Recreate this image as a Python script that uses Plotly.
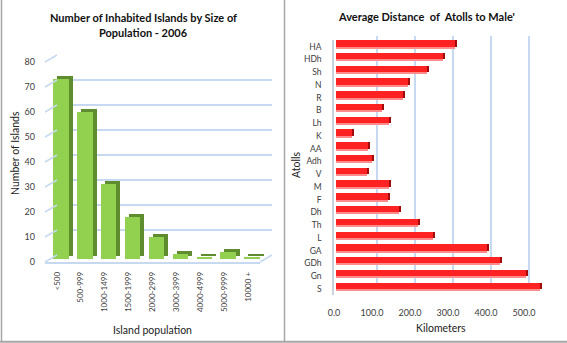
import plotly.graph_objects as go

# ---------------- data ----------------
pop_categories = ["<500", "500-999", "1000-1499", "1500-1999", "2000-2999",
                  "3000-3999", "4000-4999", "5000-9999", "10000 +"]
islands_count = [72, 59, 30, 17, 9, 2, 1, 3, 1]
islands_ticks = [0, 10, 20, 30, 40, 50, 60, 70, 80]

atolls = ["HA", "HDh", "Sh", "N", "R", "B", "Lh", "K", "AA", "Adh",
          "V", "M", "F", "Dh", "Th", "L", "GA", "GDh", "Gn", "S"]
distance_km = [313, 282, 239, 189, 177, 122, 140, 41, 83, 96,
               82, 139, 138, 166, 217, 254, 398, 432, 499, 537]
km_ticks = [0, 100, 200, 300, 400, 500]

# ---------------- geometry helpers ----------------
W, H = 567, 343
def px(x): return x / W
def py(y): return 1 - y / H

FONT = "Lato, 'Liberation Sans', Arial, sans-serif"
GRID = "#C6D9F0"
TICKC = "#404040"

fig = go.Figure()
layout = dict(
    width=W, height=H, margin=dict(l=0, r=0, t=0, b=0),
    paper_bgcolor="white", plot_bgcolor="rgba(0,0,0,0)",
    showlegend=False, font=dict(family=FONT, size=9, color=TICKC),
    bargap=0,
)

# ================= LEFT CHART =================
YMAX = 80
FY0, FY80 = 262, 62          # front plane: pixel y of 0 and 80
FX0, FX1 = 45, 260           # front plane x extent
ncat = len(pop_categories)
cat_range = [-0.5, ncat - 0.5]

def lshift(dx, dy):
    return [px(FX0 + dx), px(FX1 + dx)], [py(FY0 + dy), py(FY80 + dy)]

# axis 1: front axes with labels
xd, yd = lshift(0, 0)
layout["xaxis"] = dict(domain=xd, anchor="y", type="category", range=cat_range,
                       categoryorder="array", categoryarray=pop_categories,
                       tickangle=-90, tickfont=dict(size=8, color=TICKC),
                       showline=True, linecolor=GRID, linewidth=1.5,
                       showgrid=False, zeroline=False, ticks="", automargin=False,
                       ticklabelstandoff=5)
layout["yaxis"] = dict(domain=yd, anchor="x", range=[0, YMAX], tickvals=islands_ticks,
                       tickfont=dict(size=9, color=TICKC), showgrid=False,
                       zeroline=False, showline=False, ticks="", automargin=False,
                       ticklabelstandoff=9)
fig.add_trace(go.Scatter(x=pop_categories, y=[0] * ncat, xaxis="x", yaxis="y",
                         mode="markers", marker=dict(opacity=0), hoverinfo="skip"))

# axis 2: back wall gridlines
layout["xaxis2"] = dict(domain=[px(57), px(272)], anchor="y2", range=[0, 1],
                        showgrid=False, zeroline=False, showticklabels=False, automargin=False)
layout["yaxis2"] = dict(domain=[py(FY0 - 7), py(FY80 - 7)], anchor="x2", range=[0, YMAX],
                        tickvals=islands_ticks, showgrid=True, gridcolor=GRID, gridwidth=1.5,
                        zeroline=False, showticklabels=False, automargin=False)
fig.add_trace(go.Scatter(x=[0], y=[0], xaxis="x2", yaxis="y2", mode="markers",
                         marker=dict(opacity=0), hoverinfo="skip"))

# axis 3: dark extrusion of bars
xd, yd = lshift(8, -6)
layout["xaxis3"] = dict(domain=xd, anchor="y3", type="category", range=cat_range,
                        categoryorder="array", categoryarray=pop_categories,
                        showgrid=False, zeroline=False, showticklabels=False, automargin=False)
layout["yaxis3"] = dict(domain=yd, anchor="x3", range=[0, YMAX], showgrid=False,
                        zeroline=False, showticklabels=False, automargin=False)
fig.add_trace(go.Bar(x=pop_categories, y=islands_count, xaxis="x3", yaxis="y3",
                     width=0.65, marker=dict(color="#5E8C2F", line=dict(width=0))))

# axis 4: front faces of bars
xd, yd = lshift(4, -3)
layout["xaxis4"] = dict(domain=xd, anchor="y4", type="category", range=cat_range,
                        categoryorder="array", categoryarray=pop_categories,
                        showgrid=False, zeroline=False, showticklabels=False, automargin=False)
layout["yaxis4"] = dict(domain=yd, anchor="x4", range=[0, YMAX], showgrid=False,
                        zeroline=False, showticklabels=False, automargin=False)
fig.add_trace(go.Bar(x=pop_categories, y=islands_count, xaxis="x4", yaxis="y4",
                     width=0.65, marker=dict(color="#92D050", line=dict(width=0))))

shapes = []
# side wall diagonals for left chart
for v in islands_ticks:
    yf = FY0 + (FY80 - FY0) * v / YMAX
    shapes.append(dict(type="line", xref="paper", yref="paper",
                       x0=px(FX0), y0=py(yf), x1=px(57), y1=py(yf - 7),
                       line=dict(color=GRID, width=1.5)))
shapes.append(dict(type="line", xref="paper", yref="paper",
                   x0=px(FX1), y0=py(FY0), x1=px(272), y1=py(FY0 - 7),
                   line=dict(color=GRID, width=1.5)))

# ================= RIGHT CHART =================
X0PX = 334
PXU = 0.38                       # pixels per km
YT, YB = 40.3, 295.4             # front category axis extent
na = len(atolls)
rcat_range = [na - 0.5, -0.5]

def rshift(dx, dy):
    xs = X0PX + dx
    return [px(xs), 1.0], [0, (W - xs) / PXU], [py(YB + dy), py(YT + dy)]

xd, xr, yd = rshift(0, 0)
layout["xaxis5"] = dict(domain=xd, anchor="y5", range=xr, tickvals=km_ticks,
                        tickformat=".1f", tickfont=dict(size=9, color=TICKC),
                        showgrid=False, zeroline=False, showline=False, ticks="",
                        automargin=False, ticklabelstandoff=11)
layout["yaxis5"] = dict(domain=yd, anchor="x5", type="category", range=rcat_range,
                        categoryorder="array", categoryarray=atolls,
                        tickfont=dict(size=8.5, color=TICKC), showgrid=False,
                        zeroline=False, showline=True, linecolor="#C9D3E0", linewidth=1.5,
                        ticks="", automargin=False, ticklabelstandoff=9)
fig.add_trace(go.Scatter(x=[0] * na, y=atolls, xaxis="x5", yaxis="y5", mode="markers",
                         marker=dict(opacity=0), hoverinfo="skip"))

# back wall grid
xd, xr, yd = rshift(5, -4)
layout["xaxis6"] = dict(domain=xd, anchor="y6", range=xr, tickvals=km_ticks,
                        showgrid=True, gridcolor=GRID, gridwidth=1.5, zeroline=False,
                        showticklabels=False, automargin=False)
layout["yaxis6"] = dict(domain=yd, anchor="x6", range=[0, 1], showgrid=False,
                        zeroline=False, showticklabels=False, automargin=False)
fig.add_trace(go.Scatter(x=[0], y=[0], xaxis="x6", yaxis="y6", mode="markers",
                         marker=dict(opacity=0), hoverinfo="skip"))

def rbar_axes(n, dx, dy):
    xd, xr, yd = rshift(dx, dy)
    layout[f"xaxis{n}"] = dict(domain=xd, anchor=f"y{n}", range=xr, showgrid=False,
                               zeroline=False, showticklabels=False, automargin=False)
    layout[f"yaxis{n}"] = dict(domain=yd, anchor=f"x{n}", type="category",
                               range=rcat_range, categoryorder="array",
                               categoryarray=atolls, showgrid=False, zeroline=False,
                               showticklabels=False, automargin=False)

# pink underside
rbar_axes(7, 2, -1)
fig.add_trace(go.Bar(y=atolls, x=distance_km, orientation="h", xaxis="x7", yaxis="y7",
                     width=0.5, marker=dict(color="#FF8C8C", line=dict(width=0))))
# dark end
rbar_axes(8, 4, -3.5)
fig.add_trace(go.Bar(y=atolls, x=distance_km, orientation="h", xaxis="x8", yaxis="y8",
                     width=0.5, marker=dict(color="#A50A0A", line=dict(width=0))))
# red front
rbar_axes(9, 2, -3)
fig.add_trace(go.Bar(y=atolls, x=distance_km, orientation="h", xaxis="x9", yaxis="y9",
                     width=0.5, marker=dict(color="#FF2222", line=dict(width=0))))

# ---------------- frame ----------------
FRAME = "#A6A6A6"
shapes += [
    dict(type="line", xref="paper", yref="paper", x0=px(1.5), y0=py(0), x1=px(1.5), y1=py(341.5),
         line=dict(color=FRAME, width=1.5)),
    dict(type="line", xref="paper", yref="paper", x0=px(284.5), y0=py(0), x1=px(284.5), y1=py(341.5),
         line=dict(color=FRAME, width=1.5)),
    dict(type="line", xref="paper", yref="paper", x0=0, y0=py(341.8), x1=1, y1=py(341.8),
         line=dict(color=FRAME, width=2)),
]
layout["shapes"] = shapes

# ---------------- titles ----------------
def ann(text, x, y, size, color="#222", angle=0):
    return dict(text=text, x=px(x), y=py(y), xanchor="center", yanchor="middle",
                xref="paper", yref="paper", showarrow=False, textangle=angle,
                font=dict(size=size, color=color))

layout["annotations"] = [
    ann("<b>Number of Inhabited Islands by Size of</b>", 143, 17, 11, "#111"),
    ann("<b>Population - 2006</b>", 143, 32, 11, "#111"),
    ann("<b>Average Distance  of  Atolls to Male'</b>", 426, 16, 11, "#111"),
    ann("Number of Islands", 15, 153, 10.5, angle=-90),
    ann("Island population", 152, 330, 10.5),
    ann("Atolls", 296, 165, 10.5, angle=-90),
    ann("Kilometers", 441, 328, 10.5),
]

fig.update_layout(**layout)
fig.write_html("out.html")
